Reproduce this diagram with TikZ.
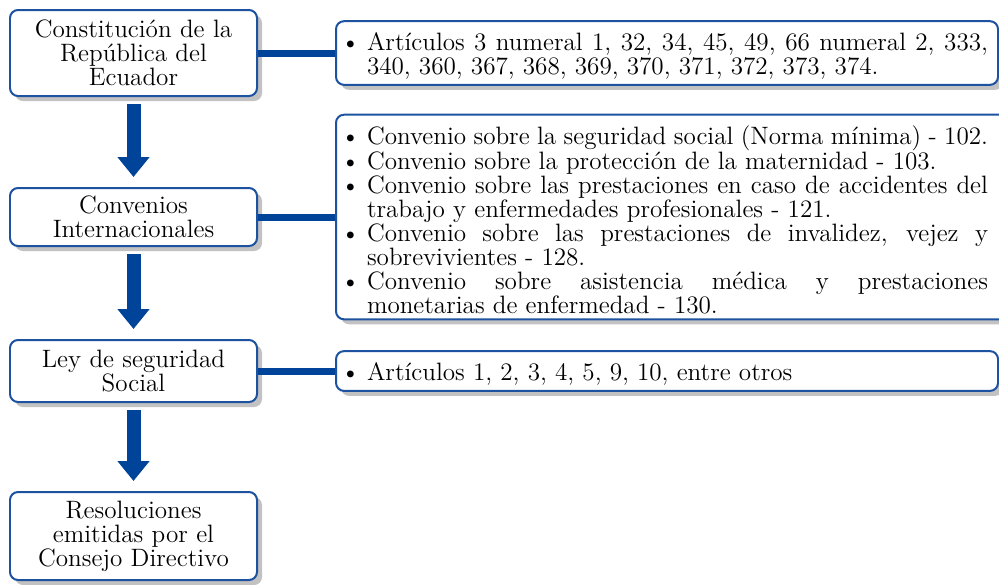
\documentclass[tikz,border=0pt]{standalone}
\usepackage{enumitem}
\definecolor{ecblue}{HTML}{00449A}
\definecolor{ecline}{HTML}{1D52A0}
\usetikzlibrary{arrows.meta,positioning,shadows}
\setlist[itemize]{label=\textbullet, leftmargin=0.42cm, labelwidth=0.28cm, labelsep=0.14cm, nosep}
\hyphenpenalty=10000

\begin{document}
\begin{tikzpicture}[
  font=\fontsize{14.3}{13.6}\selectfont,
  lawbox/.style={draw=ecline, line width=0.04cm, rounded corners=0.16cm, fill=white,
    drop shadow={shadow xshift=0.1cm, shadow yshift=-0.1cm, fill=black!24, opacity=1},
    text width=4.6cm, align=center, inner xsep=0.17cm, inner ysep=0.15cm},
  listbox/.style={lawbox, text width=12.84cm, align=justify, inner xsep=0.2cm, inner ysep=0.11cm},
  link/.style={ecblue, line width=0.14cm},
  flow/.style={ecblue, line width=0.28cm, -{Triangle[width=0.62cm,length=0.4cm]},
    shorten <=0.14cm, shorten >=0.2cm}]
  \useasboundingbox (0,0) rectangle (19.98,-11.68);

  % Legal hierarchy
  \node[lawbox, minimum height=1.72cm] (cre) at (2.67,-1.06) {Constitución de la\\República del\\Ecuador};
  \node[lawbox, minimum height=1.16cm] (oit) at (2.67,-4.34) {Convenios\\Internacionales};
  \node[lawbox, minimum height=1.24cm] (lss) at (2.67,-7.42) {Ley de seguridad\\Social};
  \node[lawbox, minimum height=1.76cm] (res) at (2.67,-10.72) {Resoluciones\\emitidas por el\\Consejo Directivo};

  % Detail boxes
  \node[listbox, right=1.54cm of cre] (art) {\begin{itemize}
    \item Artículos 3 numeral 1, 32, 34, 45, 49, 66 numeral 2, 333,\linebreak 340, 360, 367, 368, 369, 370, 371, 372, 373, 374.
  \end{itemize}};
  \node[listbox, text width=13.14cm, right=1.54cm of oit] (conv) {\begin{itemize}[rightmargin=0.3cm]
    \item Convenio sobre la seguridad social (Norma mínima) - 102.
    \item Convenio sobre la protección de la maternidad - 103.
    \item Convenio sobre las prestaciones en caso de accidentes del trabajo y enfermedades profesionales - 121.
    \item Convenio sobre las prestaciones de invalidez, vejez y sobrevivientes - 128.
    \item Convenio sobre asistencia médica y prestaciones\linebreak monetarias de enfermedad - 130.
  \end{itemize}};
  \node[listbox, right=1.54cm of lss] (ley) {\begin{itemize}
    \item Artículos 1, 2, 3, 4, 5, 9, 10, entre otros
  \end{itemize}};

  % Connectors
  \draw[link] (cre.east) -- (art.west);
  \draw[link] (oit.east) -- (conv.west);
  \draw[link] (lss.east) -- (ley.west);

  % Arrows
  \draw[flow] (cre.south) -- (oit.north);
  \draw[flow] (oit.south) -- (lss.north);
  \draw[flow] (lss.south) -- (res.north);
\end{tikzpicture}
\end{document}
